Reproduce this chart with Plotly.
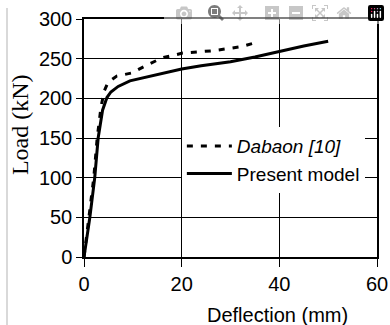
import plotly.graph_objects as go

# Present model (solid)
present_x = [0, 1.2, 2.2, 2.9, 3.8, 4.7, 5.5, 7, 9.4, 13.5, 17.6, 20, 24, 30, 35, 40, 45, 50]
present_y = [0, 50, 100, 150, 185, 201, 208, 215, 222, 228, 234, 237, 241, 246, 252, 259, 266, 272]

# Dabaon [10] (dashed)
dabaon_x = [0, 1.0, 2.0, 2.7, 3.5, 4.2, 4.9, 6.7, 9.8, 12.9, 16, 20.2, 26.4, 32.1, 35]
dabaon_y = [0, 50, 100, 150, 190, 210, 220, 228, 232, 242, 251, 257, 260, 265, 270]

x_ticks = [0, 20, 40, 60]
y_ticks = [0, 50, 100, 150, 200, 250, 300]

fig = go.Figure()
fig.add_trace(go.Scatter(x=dabaon_x, y=dabaon_y, mode="lines", name="<i>Dabaon [10]</i>",
                         line=dict(color="black", width=3, dash="6px,8px"),
                         legendgroup="a"))
fig.add_trace(go.Scatter(x=present_x, y=present_y, mode="lines", name="Present model",
                         line=dict(color="black", width=3),
                         legendgroup="b"))

fig.update_layout(
    template="none",
    width=390, height=325,
    margin=dict(l=84, r=13, t=19, b=68, autoexpand=False),
    paper_bgcolor="white", plot_bgcolor="white",
    font=dict(family="Liberation Sans, Arial", size=20, color="black"),
    showlegend=True,
    legend=dict(x=0.334, y=0.546, xanchor="left", yanchor="top",
                bgcolor="white", borderwidth=0,
                font=dict(family="Liberation Sans, Arial", size=19, color="black"),
                traceorder="grouped", tracegroupgap=0, itemwidth=45),
    shapes=[dict(type="line", xref="paper", yref="paper",
                 x0=-77/293, x1=-77/293, y0=-68/238, y1=(257-8)/238,
                 line=dict(color="#cccccc", width=1.5))],
    annotations=[
        dict(text="Load (kN)", textangle=-90, xref="paper", yref="paper",
             x=-0.218, y=0.555, xanchor="center", yanchor="middle", showarrow=False,
             font=dict(family="Liberation Serif, Times New Roman", size=24, color="black")),
        dict(text="Deflection (mm)", xref="paper", yref="paper",
             x=0.659, y=-0.244, xanchor="center", yanchor="middle", showarrow=False,
             font=dict(family="Liberation Sans, Arial", size=20, color="black")),
    ],
)
fig.update_xaxes(range=[0, 60], tickmode="array", tickvals=x_ticks, ticks="outside", ticklen=8,
                 tickcolor="black", showgrid=True, gridcolor="#000000", gridwidth=1.2,
                 showline=True, linecolor="black", linewidth=1.5, mirror=True,
                 zeroline=False, automargin=False, layer="above traces")
fig.update_yaxes(range=[0, 300], tickmode="array", tickvals=y_ticks, ticks="outside", ticklen=6,
                 tickcolor="black", showgrid=True, gridcolor="#000000", gridwidth=1.2,
                 showline=True, linecolor="black", linewidth=1.5, mirror=True,
                 zeroline=False, automargin=False, layer="above traces")

fig.write_html("out.html",
               post_script="document.body.style.margin='0';document.body.style.padding='0';")
